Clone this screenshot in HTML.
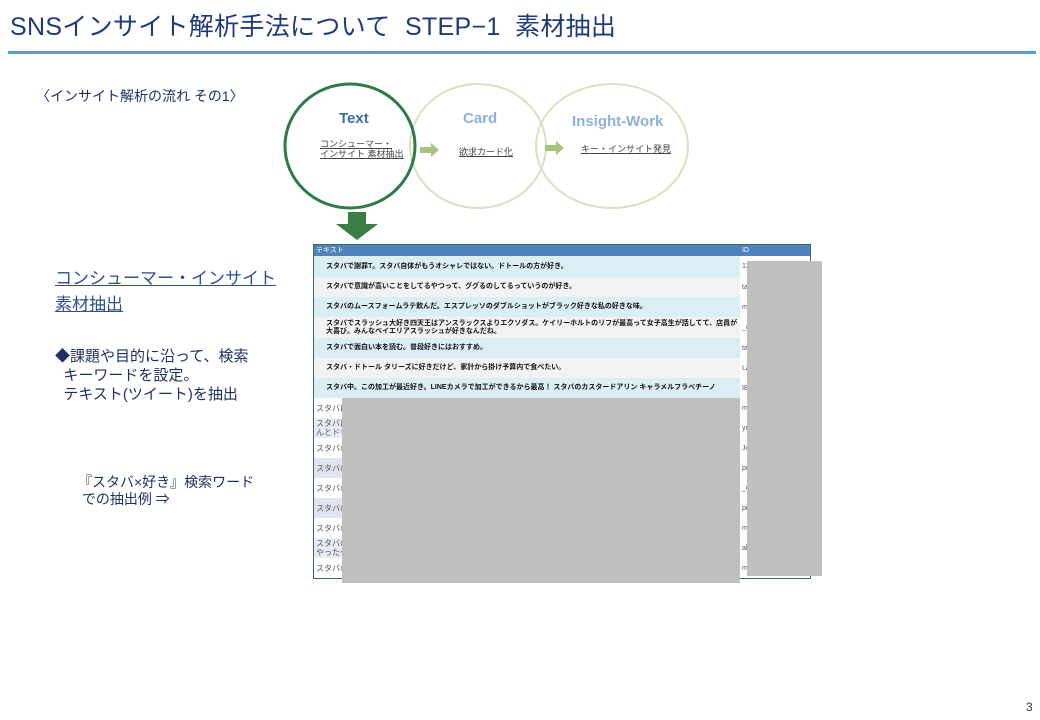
<!DOCTYPE html>
<html><head><meta charset="utf-8"><style>
*{margin:0;padding:0;box-sizing:border-box}
body{width:1040px;height:720px;background:#fff;position:relative;overflow:hidden;font-family:"Liberation Sans","Noto Sans CJK JP",sans-serif}
.a{position:absolute;white-space:nowrap}
.row{position:absolute;left:314px;width:426px;font-size:7px;font-weight:bold;color:#111;padding-left:12px;line-height:8px;display:flex;align-items:center}
.id{position:absolute;left:740px;width:70px;font-size:7px;color:#555;padding-left:2px;display:flex;align-items:center}
.r2{position:absolute;left:314px;width:426px;font-size:8px;color:#555;padding-left:2px;line-height:9px;display:flex;align-items:center}
</style></head><body>
<div class="a" style="left:10px;top:7px;font-size:25px;letter-spacing:0.3px;color:#1f3a78;">SNSインサイト解析手法について&nbsp; STEP−1&nbsp; 素材抽出</div>
<div class="a" style="left:8px;top:51px;width:1028px;height:3px;background:#4ba6c4"></div>
<div class="a" style="left:36px;top:86px;font-size:14px;color:#1f2f5f;">〈インサイト解析の流れ その1〉</div>

<svg class="a" style="left:0;top:0" width="1040" height="720">
<ellipse cx="612" cy="146" rx="76" ry="62" fill="none" stroke="#dcdfc4" stroke-width="2"/>
<ellipse cx="478" cy="146" rx="68" ry="62" fill="none" stroke="#dcdfc4" stroke-width="2"/>
<ellipse cx="350" cy="146" rx="65" ry="62" fill="none" stroke="#2f7a46" stroke-width="3"/>
<polygon points="420,147 431,147 431,143 439,150 431,157 431,153 420,153" fill="#a9c47f"/>
<polygon points="545,145 556,145 556,141 564,148 556,155 556,151 545,151" fill="#a9c47f"/>
<polygon points="348,212 366,212 366,224 378,224 357,240 336,224 348,224" fill="#3a7d45"/>
</svg>
<div class="a" style="left:339px;top:110px;font-size:15px;font-weight:bold;color:#3f6ea8">Text</div>
<div class="a" style="left:463px;top:110px;font-size:15px;font-weight:bold;color:#8fb1d8">Card</div>
<div class="a" style="left:572px;top:113px;font-size:15px;font-weight:bold;color:#8fb1d8">Insight-Work</div>
<div class="a" style="left:320px;top:139px;font-size:9px;line-height:10px;color:#444;text-decoration:underline">コンシューマー・<br>インサイト 素材抽出</div>
<div class="a" style="left:459px;top:145px;font-size:9px;color:#444;text-decoration:underline">欲求カード化</div>
<div class="a" style="left:581px;top:142px;font-size:9px;color:#444;text-decoration:underline">キー・インサイト発見</div>

<div class="a" style="left:313px;top:244px;width:498px;height:335px;border:1px solid #3f6a55;background:#fff"></div>
<div class="a" style="left:314px;top:245px;width:496px;height:11px;background:#4f81bd;font-size:7px;color:#fff;padding-left:2px;line-height:11px">テキスト<span style="position:absolute;left:428px">ID</span></div>
<div class="row" style="top:256px;height:21px;background:#dbeef4">スタバで謝罪T。スタバ自体がもうオシャレではない。ドトールの方が好き。</div>
<div class="row" style="top:277px;height:20px;background:#f2f2f2">スタバで意識が高いことをしてるやつって、ググるのしてるっていうのが好き。</div>
<div class="row" style="top:297px;height:20px;background:#dbeef4">スタバのムースフォームラテ飲んだ。エスプレッソのダブルショットがブラック好きな私の好きな味。</div>
<div class="row" style="top:317px;height:21px;background:#f2f2f2">スタバでスラッシュ大好き四天王はアンスラックスよりエクソダス。ケイリーホルトのリフが最高って女子高生が話してて、店員が大喜び。みんなベイエリアスラッシュが好きなんだね。</div>
<div class="row" style="top:338px;height:20px;background:#dbeef4">スタバで面白い本を読む。普段好きにはおすすめ。</div>
<div class="row" style="top:358px;height:20px;background:#f2f2f2">スタバ・ドトール タリーズに好きだけど、家計から掛け予算内で食べたい。</div>
<div class="row" style="top:378px;height:20px;background:#dbeef4">スタバ中。この加工が最近好き。LINEカメラで加工ができるから最高！ スタバのカスタードアリン キャラメルフラペチーノ</div>
<div class="r2" style="top:398px;height:20px;background:#fff">スタバにキ</div>
<div class="r2" style="top:418px;height:20px;background:#e9ebf4">スタバにキ<br>んとドリッ</div>
<div class="r2" style="top:438px;height:20px;background:#fff">スタバのス</div>
<div class="r2" style="top:458px;height:20px;background:#e1e4ef">スタバのス</div>
<div class="r2" style="top:478px;height:20px;background:#fff">スタバのお</div>
<div class="r2" style="top:498px;height:20px;background:#e1e4ef">スタバのお</div>
<div class="r2" style="top:518px;height:20px;background:#fff">スタバのキ</div>
<div class="r2" style="top:538px;height:20px;background:#e9ebf4">スタバのこ<br>やった～</div>
<div class="r2" style="top:558px;height:20px;background:#fff">スタバのこ</div>
<div class="id" style="top:256px;height:21px">12</div>
<div class="id" style="top:277px;height:20px">ta</div>
<div class="id" style="top:297px;height:20px">mi</div>
<div class="id" style="top:317px;height:21px">_ai</div>
<div class="id" style="top:338px;height:20px">ta</div>
<div class="id" style="top:358px;height:20px">La</div>
<div class="id" style="top:378px;height:20px">IB</div>
<div class="id" style="top:398px;height:20px">m</div>
<div class="id" style="top:418px;height:20px">yu</div>
<div class="id" style="top:438px;height:20px">Jo</div>
<div class="id" style="top:458px;height:20px">po</div>
<div class="id" style="top:478px;height:20px">_o</div>
<div class="id" style="top:498px;height:20px">pi</div>
<div class="id" style="top:518px;height:20px">m</div>
<div class="id" style="top:538px;height:20px">ak</div>
<div class="id" style="top:558px;height:20px">m</div>
<div class="a" style="left:342px;top:398px;width:398px;height:185px;background:#bfbfbf"></div>
<div class="a" style="left:747px;top:261px;width:75px;height:315px;background:#bfbfbf"></div>

<div class="a" style="left:55px;top:266px;font-size:17px;line-height:26px;color:#2f4f8f;text-decoration:underline">コンシューマー・インサイト<br>素材抽出</div>
<div class="a" style="left:55px;top:347px;font-size:15px;line-height:19px;color:#1f2f5f">◆課題や目的に沿って、検索<br>&nbsp;&nbsp;キーワードを設定。<br>&nbsp;&nbsp;テキスト(ツイート)を抽出</div>
<div class="a" style="left:78px;top:474px;font-size:14px;line-height:17px;color:#1f2f5f">『スタバ×好き』検索ワード<br>&nbsp;での抽出例 ⇒</div>
<div class="a" style="left:1026px;top:700px;font-size:12px;color:#333">3</div>
</body></html>
